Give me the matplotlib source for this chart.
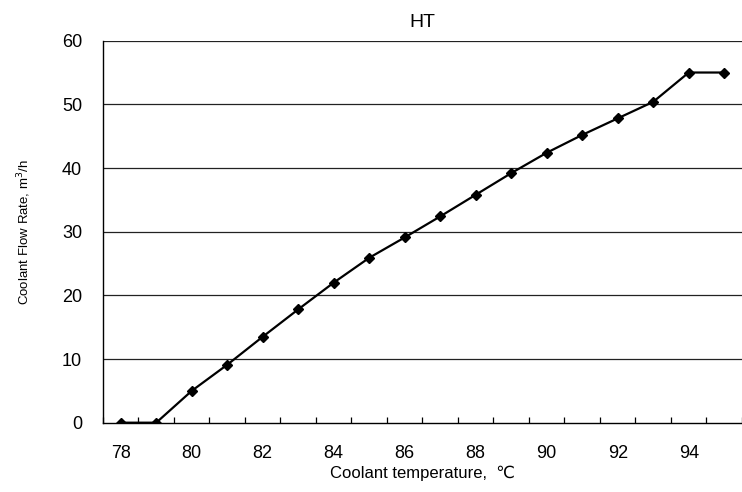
import numpy as np
import matplotlib
matplotlib.use('Agg')
import matplotlib.pyplot as plt
from matplotlib.ticker import FixedLocator

plt.rcParams['font.family'] = ['Liberation Sans', 'DejaVu Sans']

# coolant temperature categories (deg C) and flow rate (m3/h)
temps = [78, 79, 80, 81, 82, 83, 84, 85, 86, 87, 88, 89, 90, 91, 92, 93, 94, 95]
flow = [0, 0, 5.0, 9.1, 13.5, 17.8, 22.0, 25.9, 29.1, 32.4, 35.8, 39.2,
        42.4, 45.2, 47.8, 50.4, 55.0, 55.0]
y_ticks = [0, 10, 20, 30, 40, 50, 60]

fig = plt.figure(figsize=(7.42, 4.92), dpi=100)
ax = fig.add_axes([0.1388, 0.1409, 0.8612, 0.7764])

idx = np.arange(len(temps))
ax.plot(idx, flow, color='black', lw=1.6, marker='D', markersize=5.2,
        markerfacecolor='black', markeredgecolor='black', zorder=3)

# horizontal gridlines like excel
for v in y_ticks[1:]:
    ax.axhline(v, color='#222222', lw=0.9, zorder=1)

ax.set_xlim(-0.5, len(temps) - 0.5)
ax.set_ylim(0, 60)

# labels on every other category, tick marks at category boundaries
ax.set_xticks(idx[::2])
ax.set_xticklabels([str(t) for t in temps[::2]])
ax.xaxis.set_minor_locator(FixedLocator(np.arange(-0.5, len(temps), 1.0)))
ax.tick_params(axis='x', which='major', length=0, pad=16, labelsize=13)
ax.tick_params(axis='x', which='minor', direction='in', length=4.5, width=0.9)

ax.set_yticks(y_ticks)
ax.tick_params(axis='y', which='major', length=0, pad=15, labelsize=13)

for s in ['top', 'right']:
    ax.spines[s].set_visible(False)
ax.spines['left'].set_linewidth(1.0)
ax.spines['bottom'].set_linewidth(1.0)

ax.set_title('HT', fontsize=14, pad=10)
ax.set_xlabel('Coolant temperature,  ℃', fontsize=12, labelpad=3)
ax.set_ylabel('Coolant Flow Rate, m$^3$/h', fontsize=9.5, labelpad=21)

fig.savefig('out.png', dpi=100)
